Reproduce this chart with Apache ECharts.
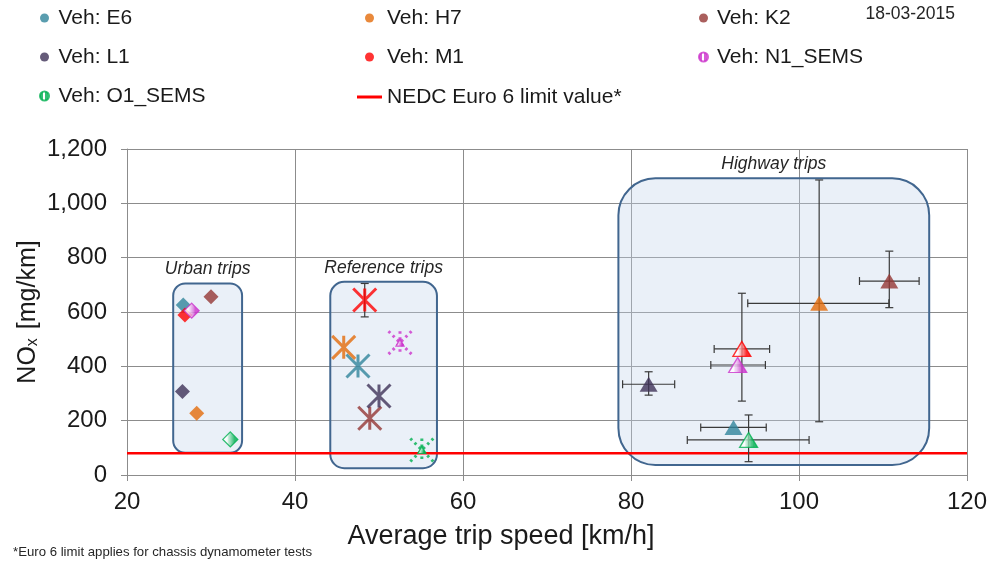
<!DOCTYPE html>
<html>
<head>
<meta charset="utf-8">
<script src="https://cdn.jsdelivr.net/npm/echarts@6/dist/echarts.min.js"></script>
<style>
  html, body { margin: 0; padding: 0; background: #ffffff; }
  #chart { width: 989px; height: 565px; }
</style>
</head>
<body>
<div id="chart"></div>
<script>
// ---- data ----------------------------------------------------------------
const vehicles = ['Veh: E6', 'Veh: H7', 'Veh: K2', 'Veh: L1', 'Veh: M1', 'Veh: N1_SEMS', 'Veh: O1_SEMS'];

// urban trips (average speed km/h, NOx mg/km)
const urbanSpeed = [26.7, 28.3, 30.0, 26.6, 26.9, 27.7, 32.3];
const urbanNox   = [626, 227, 656, 307, 589, 605, 131];

// reference trips
const refSpeed = [47.5, 45.8, 48.9, 50.0, 48.3, 52.5, 55.1];
const refNox   = [401, 470, 209, 291, 644, 487, 92];
const refNoxLo = [null, null, null, null, 582, null, null];
const refNoxHi = [null, null, null, null, 705, null, null];

// highway trips, with ranges
const hwySpeed   = [92.2, 102.4, 110.75, 82.1, 93.2, 92.7, 94.0];
const hwyNox     = [175, 632, 714, 334, 464, 405, 129];
const hwySpeedLo = [88.3, 93.9, 107.2, 79.0, 89.9, 89.5, 86.7];
const hwySpeedHi = [96.1, 110.7, 114.3, 85.2, 96.5, 96.0, 101.2];
const hwyNoxLo   = [null, 196, 616, 294, 272, null, 49];
const hwyNoxHi   = [null, 1086, 824, 380, 669, null, 221];

// trip groups
const zoneNames    = ['Urban trips', 'Reference trips', 'Highway trips'];
const zoneSpeedMin = [25.5, 44.2, 78.5];
const zoneSpeedMax = [33.7, 56.9, 115.5];
const zoneNoxMin   = [82, 25, 37];
const zoneNoxMax   = [705, 711, 1092];

// NEDC Euro 6 limit
const limitName  = 'NEDC Euro 6 limit value*';
const limitValue = 80;
const limitSpan  = [20, 120];

// axes
const speedTicks = [20, 40, 60, 80, 100, 120];
const noxTicks   = [0, 200, 400, 600, 800, 1000, 1200];

// ---- styles --------------------------------------------------------------
const vehicleColors = ['#31849b', '#e46c0a', '#953735', '#3f3257', '#ff0000', '#cc33cc', '#00b050'];
const hatched       = [false, false, false, false, false, true, true];   // SEMS vehicles
const hwyHatched    = [false, false, false, false, true, true, true];    // striped highway triangles
const zoneRadius    = [12, 14, 37];
const FONT = '"Liberation Sans", Arial, sans-serif';
const GRID_COLOR = '#8c8c8c';
const ASTERISK = 'path://M0,0L10,10M10,0L0,10M5,0L5,10';

function stripes(color) {
  const c = document.createElement('canvas');
  c.width = 5; c.height = 5;
  const ctx = c.getContext('2d');
  ctx.fillStyle = '#ffffff';
  ctx.fillRect(0, 0, 5, 5);
  ctx.fillStyle = color;
  ctx.fillRect(0, 0, 3, 5);
  return { image: c, repeat: 'repeat' };
}

// ---- series --------------------------------------------------------------
const zoneData = zoneNames.map((n, i) => [zoneSpeedMin[i], zoneSpeedMax[i], zoneNoxMin[i], zoneNoxMax[i], i]);

const errData = [];
vehicles.forEach((v, i) => {
  errData.push([hwySpeedLo[i], hwySpeedHi[i], hwyNox[i], 0]);
  if (hwyNoxLo[i] != null) errData.push([hwySpeed[i], hwyNoxLo[i], hwyNoxHi[i], 1]);
  if (refNoxLo[i] != null) errData.push([refSpeed[i], refNoxLo[i], refNoxHi[i], 1]);
});

function renderZone(params, api) {
  const i = api.value(4);
  const tl = api.coord([api.value(0), api.value(3)]);
  const br = api.coord([api.value(1), api.value(2)]);
  return {
    type: 'group',
    children: [
      {
        type: 'rect',
        shape: { x: tl[0], y: tl[1], width: br[0] - tl[0], height: br[1] - tl[1], r: zoneRadius[i] },
        style: { fill: 'rgba(196, 212, 234, 0.35)', stroke: '#41668f', lineWidth: 2 }
      },
      {
        type: 'text',
        style: {
          text: zoneNames[i], x: (tl[0] + br[0]) / 2, y: tl[1] - 14,
          align: 'center', verticalAlign: 'middle',
          font: 'italic 17.5px ' + FONT, fill: '#262626'
        }
      }
    ]
  };
}

function renderErr(params, api) {
  const cap = 4;
  const style = { stroke: '#3a3a3a', lineWidth: 1.2 };
  const kind = api.value(3);
  let a, b, caps;
  if (kind === 0) {
    a = api.coord([api.value(0), api.value(2)]);
    b = api.coord([api.value(1), api.value(2)]);
    caps = [[a[0], a[1] - cap, a[0], a[1] + cap], [b[0], b[1] - cap, b[0], b[1] + cap]];
  } else {
    a = api.coord([api.value(0), api.value(1)]);
    b = api.coord([api.value(0), api.value(2)]);
    caps = [[a[0] - cap, a[1], a[0] + cap, a[1]], [b[0] - cap, b[1], b[0] + cap, b[1]]];
  }
  const children = [{ type: 'line', shape: { x1: a[0], y1: a[1], x2: b[0], y2: b[1] }, style }];
  caps.forEach(c => children.push({ type: 'line', shape: { x1: c[0], y1: c[1], x2: c[2], y2: c[3] }, style }));
  return { type: 'group', children };
}

const vehicleSeries = vehicles.map((name, i) => {
  const c = vehicleColors[i];
  const striped = { color: stripes(c), borderColor: c, borderWidth: 1.3 };
  const data = [
    { value: [urbanSpeed[i], urbanNox[i]], symbol: 'diamond', symbolSize: 15 },
    {
      value: [refSpeed[i], refNox[i]], symbol: ASTERISK, symbolSize: 23,
      itemStyle: { color: 'transparent', borderColor: c, borderWidth: 3, borderType: hatched[i] ? [2.5, 3.5] : 'solid' }
    }
  ];
  if (hatched[i]) data.push({ value: [refSpeed[i], refNox[i]], symbol: 'triangle', symbolSize: [8, 7] });
  data.push({
    value: [hwySpeed[i], hwyNox[i]], symbol: 'triangle', symbolSize: [18, 15],
    itemStyle: hwyHatched[i] ? striped : { color: c }
  });
  return {
    name, type: 'scatter', z: 5, data,
    itemStyle: hatched[i] ? striped : { color: c },
    emphasis: { disabled: true }
  };
});

function legendCol(left, top, textPad, names, extra) {
  return Object.assign({
    orient: 'vertical', left, top, itemGap: 17, itemWidth: 9, itemHeight: 9,
    icon: 'circle', selectedMode: false, padding: 0,
    textStyle: { fontFamily: FONT, fontSize: 21, color: '#1a1a1a', lineHeight: 22, padding: [0, 0, 0, textPad] },
    data: names
  }, extra || {});
}

const option = {
  animation: false,
  backgroundColor: '#ffffff',
  grid: { left: 127, right: 22, top: 149, bottom: 90, outerBoundsMode: 'none' },
  legend: [
    legendCol(39, 7, 4.5, [vehicles[0], vehicles[3], vehicles[6]]),
    legendCol(365, 7, 8, [vehicles[1], vehicles[4]]),
    legendCol(698, 7, 4, [vehicles[2], vehicles[5]]),
    legendCol(357, 86, 0, [limitName], { itemWidth: 25, itemHeight: 3, icon: 'rect' })
  ],
  xAxis: {
    type: 'value', min: speedTicks[0], max: speedTicks[speedTicks.length - 1],
    interval: speedTicks[1] - speedTicks[0],
    name: 'Average trip speed [km/h]', nameLocation: 'middle', nameGap: 48, nameMoveOverlap: false,
    nameTextStyle: { fontFamily: FONT, fontSize: 27, color: '#1a1a1a', padding: [0, 92, 0, 0] },
    axisLine: { show: true, lineStyle: { color: GRID_COLOR, width: 1 } },
    axisTick: { show: true, length: 6, inside: false, lineStyle: { color: GRID_COLOR } },
    axisLabel: { fontFamily: FONT, fontSize: 24, color: '#1a1a1a', margin: 15 },
    splitLine: { show: true, lineStyle: { color: GRID_COLOR, width: 1 } }
  },
  yAxis: {
    type: 'value', min: noxTicks[0], max: noxTicks[noxTicks.length - 1],
    interval: noxTicks[1] - noxTicks[0],
    name: 'NO{sub|x} [mg/km]', nameLocation: 'middle', nameGap: 86, nameMoveOverlap: false,
    nameTextStyle: {
      fontFamily: FONT, fontSize: 25, color: '#1a1a1a',
      rich: { sub: { fontFamily: FONT, fontSize: 16, color: '#1a1a1a', verticalAlign: 'bottom', padding: [8, 2, 0, 0] } }
    },
    axisLine: { show: true, lineStyle: { color: GRID_COLOR, width: 1 } },
    axisTick: { show: true, length: 6, inside: false, lineStyle: { color: GRID_COLOR } },
    axisLabel: {
      fontFamily: FONT, fontSize: 24, color: '#1a1a1a', margin: 20,
      formatter: v => v.toLocaleString('en-US')
    },
    splitLine: { show: true, lineStyle: { color: GRID_COLOR, width: 1 } }
  },
  graphic: [
    { type: 'text', right: 34, top: 5, style: { text: '18-03-2015', font: '17.5px ' + FONT, fill: '#262626' } },
    { type: 'text', left: 13, top: 546, style: { text: '*Euro 6 limit applies for chassis dynamometer tests', font: '13.2px ' + FONT, fill: '#262626' } }
  ],
  series: [
    { name: 'zones', type: 'custom', z: 1, renderItem: renderZone, data: zoneData, encode: { x: [0, 1], y: [2, 3] }, silent: true },
    {
      name: limitName, type: 'line', z: 2, data: limitSpan.map(x => [x, limitValue]),
      showSymbol: false, symbol: 'none', lineStyle: { color: '#ff0000', width: 2.5 }, itemStyle: { color: '#ff0000' },
      emphasis: { disabled: true }
    },
    { name: 'ranges', type: 'custom', z: 3, renderItem: renderErr, data: errData, encode: { x: 0, y: 1 }, silent: true }
  ].concat(vehicleSeries)
};

const chart = echarts.init(document.getElementById('chart'), null, { renderer: 'canvas' });
chart.setOption(option);
</script>
</body>
</html>
